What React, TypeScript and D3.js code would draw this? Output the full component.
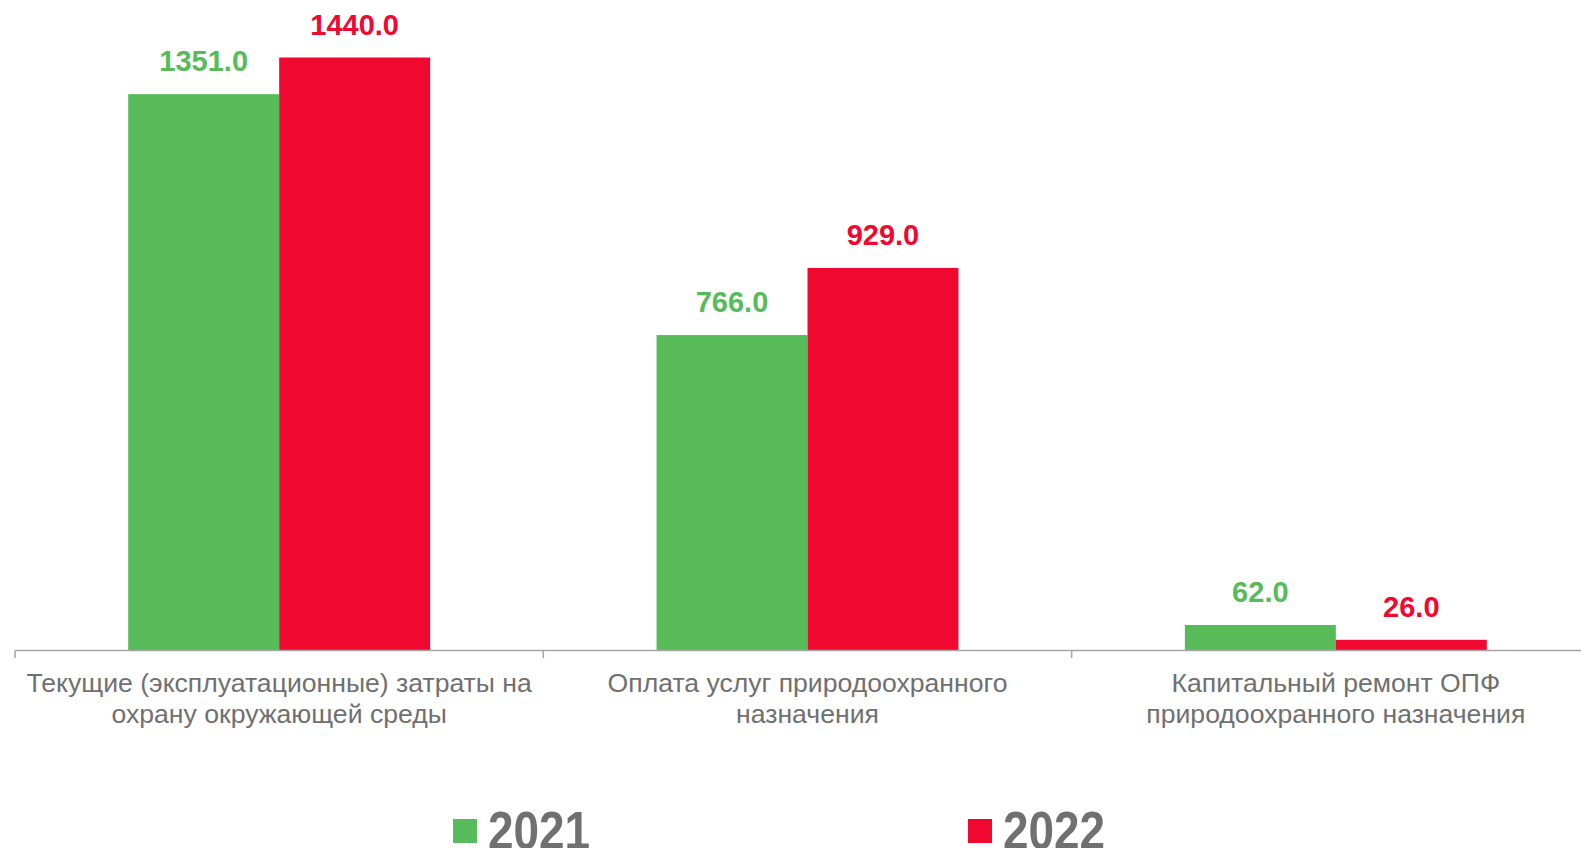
import React from "react";
import * as d3 from "d3";

const categories: string[][] = [
  ["Текущие (эксплуатационные) затраты на", "охрану окружающей среды"],
  ["Оплата услуг природоохранного", "назначения"],
  ["Капитальный ремонт ОПФ", "природоохранного назначения"],
];
const seriesNames = ["2021", "2022"];
const values2021 = [1351.0, 766.0, 62.0];
const values2022 = [1440.0, 929.0, 26.0];
const seriesColors = ["#58BB5A", "#F00831"];

const W = 1581;
const H = 848;

export default function App() {
  const catKeys = categories.map((_, i) => String(i));
  const x0 = d3.scaleBand<string>().domain(catKeys).range([15, 1600]).padding(0);
  const x1 = d3
    .scaleBand<string>()
    .domain(seriesNames)
    .range([0, x0.bandwidth()])
    .paddingInner(0)
    .paddingOuter(0.75);
  const y = d3.scaleLinear().domain([0, 1440]).range([650.5, 57.5]);
  const seriesValues = [values2021, values2022];
  const fmt = d3.format(".1f");

  const ticks = catKeys.map((k) => x0(k)!).concat([x0.range()[1]]);

  return (
    <svg
      width={W}
      height={H}
      style={{ position: "absolute", left: 0, top: 0, display: "block" }}
    >
      <rect x={0} y={0} width={W} height={H} fill="#ffffff" />
      {catKeys.map((k, ci) => (
        <g key={k} transform={`translate(${x0(k)},0)`}>
          {seriesNames.map((s, si) => {
            const v = seriesValues[si][ci];
            const bx = x1(s)!;
            const bw = x1.bandwidth();
            return (
              <g key={s}>
                <rect
                  x={bx}
                  y={y(v)}
                  width={bw}
                  height={y(0) - y(v)}
                  fill={seriesColors[si]}
                />
                <text
                  x={bx + bw / 2}
                  y={y(v) - 23}
                  textAnchor="middle"
                  fontFamily="'Liberation Sans', Arial, sans-serif"
                  fontWeight="bold"
                  fontSize={29}
                  fill={seriesColors[si]}
                >
                  {fmt(v)}
                </text>
              </g>
            );
          })}
          {categories[ci].map((line, li) => (
            <text
              key={li}
              x={x0.bandwidth() / 2}
              y={692 + li * 31}
              textAnchor="middle"
              fontFamily="'Liberation Sans', Arial, sans-serif"
              fontSize={26.6}
              fill="#707070"
            >
              {line}
            </text>
          ))}
        </g>
      ))}
      <line x1={15} x2={1600} y1={650.5} y2={650.5} stroke="#A6A6A6" strokeWidth={1.5} />
      {ticks.map((t, i) => (
        <line key={i} x1={t} x2={t} y1={650.5} y2={658} stroke="#A6A6A6" strokeWidth={1.5} />
      ))}
      {seriesNames.map((s, si) => {
        const lx = [453, 968][si];
        return (
          <g key={s}>
            <rect x={lx} y={819} width={24} height={24} fill={seriesColors[si]} />
            <text
              transform={`translate(${lx + 35},849) scale(0.85,1)`}
              fontFamily="'Liberation Sans', Arial, sans-serif"
              fontWeight="bold"
              fontSize={54}
              fill="#707070"
            >
              {s}
            </text>
          </g>
        );
      })}
    </svg>
  );
}
